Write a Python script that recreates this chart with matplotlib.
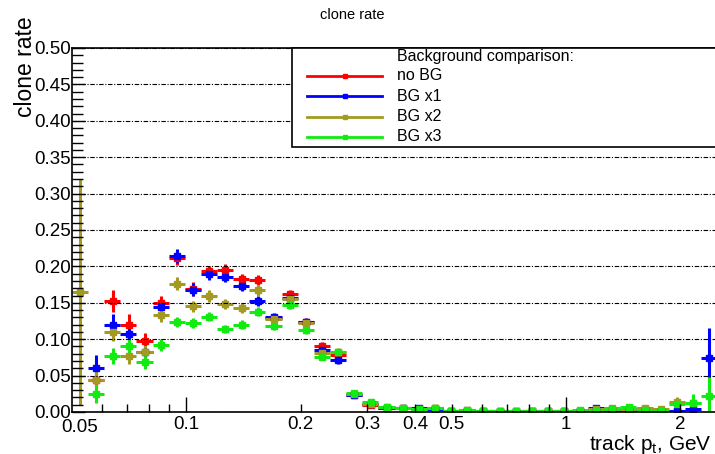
import numpy as np
import matplotlib
matplotlib.use('Agg')
import matplotlib.pyplot as plt
from matplotlib.lines import Line2D
from matplotlib.patches import Rectangle
from matplotlib.ticker import FixedLocator, FuncFormatter, MultipleLocator

plt.rcParams['font.family'] = ['Liberation Sans', 'DejaVu Sans']

# ---------------- data ----------------
pt_min, pt_max, n_bins = 0.05, 2.5, 40
nan = np.nan
series_names = ['no BG', 'BG x1', 'BG x2', 'BG x3']
series_colors = ['#ff0000', '#0000ff', '#a39a22', '#12ea12']

no_bg = [nan, 0.044, 0.152, 0.120, 0.098, 0.150, 0.212, 0.169, 0.193, 0.195,
         0.183, 0.181, 0.129, 0.162, 0.123, 0.091, 0.078, 0.024, 0.009, 0.006,
         0.005, 0.004, 0.005, 0.002, 0.003, 0.001, 0.002, 0.000, 0.002, 0.001,
         0.001, 0.002, 0.002, 0.003, 0.001, 0.002, 0.002, 0.002, nan, nan]
no_bg_err = [nan, 0.012, 0.015, 0.014, 0.011, 0.010, 0.010, 0.009, 0.008, 0.008,
             0.007, 0.007, 0.006, 0.006, 0.005, 0.005, 0.005, 0.003, 0.003, 0.002,
             0.002, 0.002, 0.002, 0.001, 0.001, 0.001, 0.001, 0.001, 0.001, 0.001,
             0.001, 0.001, 0.001, 0.002, 0.001, 0.002, 0.002, 0.003, nan, nan]

bg_x1 = [nan, 0.061, 0.120, 0.107, 0.083, 0.144, 0.214, 0.168, 0.189, 0.186,
         0.173, 0.152, 0.130, 0.157, 0.124, 0.085, 0.071, 0.024, 0.011, 0.006,
         0.005, 0.006, 0.004, 0.002, 0.002, 0.001, 0.000, 0.001, 0.001, 0.002,
         0.001, 0.002, 0.006, 0.000, 0.002, 0.004, 0.002, 0.002, 0.004, 0.074]
bg_x1_err = [nan, 0.017, 0.014, 0.012, 0.011, 0.010, 0.010, 0.009, 0.008, 0.008,
             0.007, 0.007, 0.006, 0.006, 0.005, 0.005, 0.005, 0.003, 0.003, 0.002,
             0.002, 0.002, 0.002, 0.001, 0.001, 0.001, 0.001, 0.001, 0.001, 0.001,
             0.001, 0.001, 0.002, 0.002, 0.002, 0.002, 0.002, 0.003, 0.004, 0.041]

bg_x2 = [0.165, 0.044, 0.110, 0.077, 0.082, 0.133, 0.176, 0.145, 0.159, 0.148,
         0.143, 0.167, 0.128, 0.155, 0.122, 0.081, 0.083, 0.025, 0.011, 0.007,
         0.006, 0.004, 0.006, 0.002, 0.002, 0.001, 0.002, 0.001, 0.002, 0.001,
         0.002, 0.002, 0.004, 0.005, 0.003, 0.005, 0.004, 0.014, 0.012, nan]
bg_x2_err = [0.155, 0.012, 0.012, 0.011, 0.010, 0.009, 0.009, 0.008, 0.008, 0.007,
             0.007, 0.007, 0.006, 0.006, 0.005, 0.005, 0.005, 0.003, 0.003, 0.002,
             0.002, 0.002, 0.002, 0.001, 0.001, 0.001, 0.001, 0.001, 0.001, 0.001,
             0.001, 0.001, 0.002, 0.002, 0.002, 0.002, 0.003, 0.007, 0.012, nan]

bg_x3 = [nan, 0.025, 0.077, 0.090, 0.069, 0.092, 0.124, 0.122, 0.131, 0.114,
         0.120, 0.138, 0.118, 0.147, 0.112, 0.076, 0.083, 0.026, 0.014, 0.007,
         0.005, 0.004, 0.005, 0.001, 0.003, 0.002, 0.001, 0.002, 0.001, 0.001,
         0.002, 0.003, 0.002, 0.004, 0.007, 0.003, 0.002, 0.011, 0.013, 0.022]
bg_x3_err = [nan, 0.012, 0.011, 0.010, 0.010, 0.008, 0.007, 0.007, 0.006, 0.006,
             0.006, 0.006, 0.005, 0.005, 0.005, 0.004, 0.004, 0.003, 0.003, 0.002,
             0.002, 0.002, 0.002, 0.001, 0.001, 0.001, 0.001, 0.001, 0.001, 0.001,
             0.001, 0.001, 0.002, 0.002, 0.002, 0.002, 0.002, 0.006, 0.012, 0.026]

series_values = [no_bg, bg_x1, bg_x2, bg_x3]
series_errors = [no_bg_err, bg_x1_err, bg_x2_err, bg_x3_err]

x_labels = ['0.05', '0.1', '0.2', '0.3', '0.4', '0.5', '1', '2']
x_label_values = [0.05, 0.1, 0.2, 0.3, 0.4, 0.5, 1.0, 2.0]

# ---------------- figure ----------------
W, H = 715, 454
fig = plt.figure(figsize=(W / 100, H / 100), dpi=100)
ax_l, ax_r, ax_t, ax_b = 72, 717, 48, 412
ax = fig.add_axes([ax_l / W, 1 - ax_b / H, (ax_r - ax_l) / W, (ax_b - ax_t) / H])

edges = np.logspace(np.log10(pt_min), np.log10(pt_max), n_bins + 1)
centers = 0.5 * (edges[:-1] + edges[1:])

for vals, errs, col in zip(series_values, series_errors, series_colors):
    v = np.array(vals, float)
    e = np.array(errs, float)
    m = ~np.isnan(v)
    ax.errorbar(centers[m], v[m],
                xerr=[centers[m] - edges[:-1][m], edges[1:][m] - centers[m]],
                yerr=e[m], fmt='s', ms=4, color=col, mec=col, mfc=col,
                elinewidth=2.2, capsize=0, lw=0)

ax.set_xscale('log')
ax.set_xlim(pt_min, pt_max)
ax.set_ylim(0, 0.5)

long_ticks = [0.1, 1.0]
short_ticks = [0.06, 0.07, 0.08, 0.09, 0.2, 0.3, 0.4, 0.5, 0.6, 0.7, 0.8, 0.9, 2.0]
ax.xaxis.set_major_locator(FixedLocator(long_ticks))
ax.xaxis.set_minor_locator(FixedLocator(short_ticks))

def _fmt(v, pos):
    for lv, lt in zip(x_label_values, x_labels):
        if abs(v - lv) < 1e-9:
            return lt
    return ''

ax.xaxis.set_major_formatter(FuncFormatter(_fmt))
ax.xaxis.set_minor_formatter(FuncFormatter(_fmt))
# 0.05 label at the left edge
fig.text(80 / W, 1 - 419 / H, '0.05', ha='center', va='top', fontsize=13.5)

ax.yaxis.set_major_locator(MultipleLocator(0.05))
ax.yaxis.set_minor_locator(MultipleLocator(0.01))
ax.yaxis.set_major_formatter(FuncFormatter(lambda v, p: f'{v:.2f}'))

ax.tick_params(axis='x', which='major', direction='in', length=11, width=1,
               labelsize=13.5, pad=3)
ax.tick_params(axis='x', which='minor', direction='in', length=6, width=1,
               labelsize=13.5, pad=3)
ax.tick_params(axis='y', which='major', direction='in', length=9, width=1,
               labelsize=13.5, pad=1)
ax.tick_params(axis='y', which='minor', direction='in', length=8, width=1)
ax.tick_params(top=False, right=False, which='both')

ax.yaxis.grid(True, which='major', linestyle=(0, (4, 1.5, 1, 1.5)),
              color='black', lw=0.8)
ax.set_axisbelow(False)
ax.spines['right'].set_visible(False)
for s in ['left', 'bottom', 'top']:
    ax.spines[s].set_linewidth(1.2)

fig.text(352 / W, 1 - 15 / H, 'clone rate', ha='center', va='center', fontsize=10.5)
fig.text(26 / W, 1 - 16 / H, 'clone rate', rotation=90, ha='center', va='top',
         fontsize=16.5)
fig.text(712 / W, 1 - 444 / H, r'track p$_{\mathregular{t}}$, GeV', ha='right',
         va='center', fontsize=15)

# legend (drawn in figure pixel coordinates)
leg_x0, leg_y0, leg_x1, leg_y1 = 292, 48, 717, 147
fig.patches.append(Rectangle((leg_x0 / W, 1 - leg_y1 / H), (leg_x1 - leg_x0) / W,
                             (leg_y1 - leg_y0) / H, transform=fig.transFigure,
                             facecolor='white', edgecolor='black', lw=1.2,
                             zorder=5))
fig.text(397 / W, 1 - 56 / H, 'Background comparison:', ha='left', va='center',
         fontsize=11.5, zorder=6)
for i, (name, col) in enumerate(zip(series_names, series_colors)):
    yy = 1 - (76 + 20.3 * i) / H
    fig.lines.append(Line2D([307 / W, 382 / W], [yy, yy], transform=fig.transFigure,
                            color=col, lw=2, zorder=6))
    fig.lines.append(Line2D([345 / W], [yy], transform=fig.transFigure, marker='s',
                            ms=3.5, color=col, zorder=7))
    fig.text(397 / W, yy, name, ha='left', va='center', fontsize=11.5, zorder=6)

fig.savefig('out.png', dpi=100)
